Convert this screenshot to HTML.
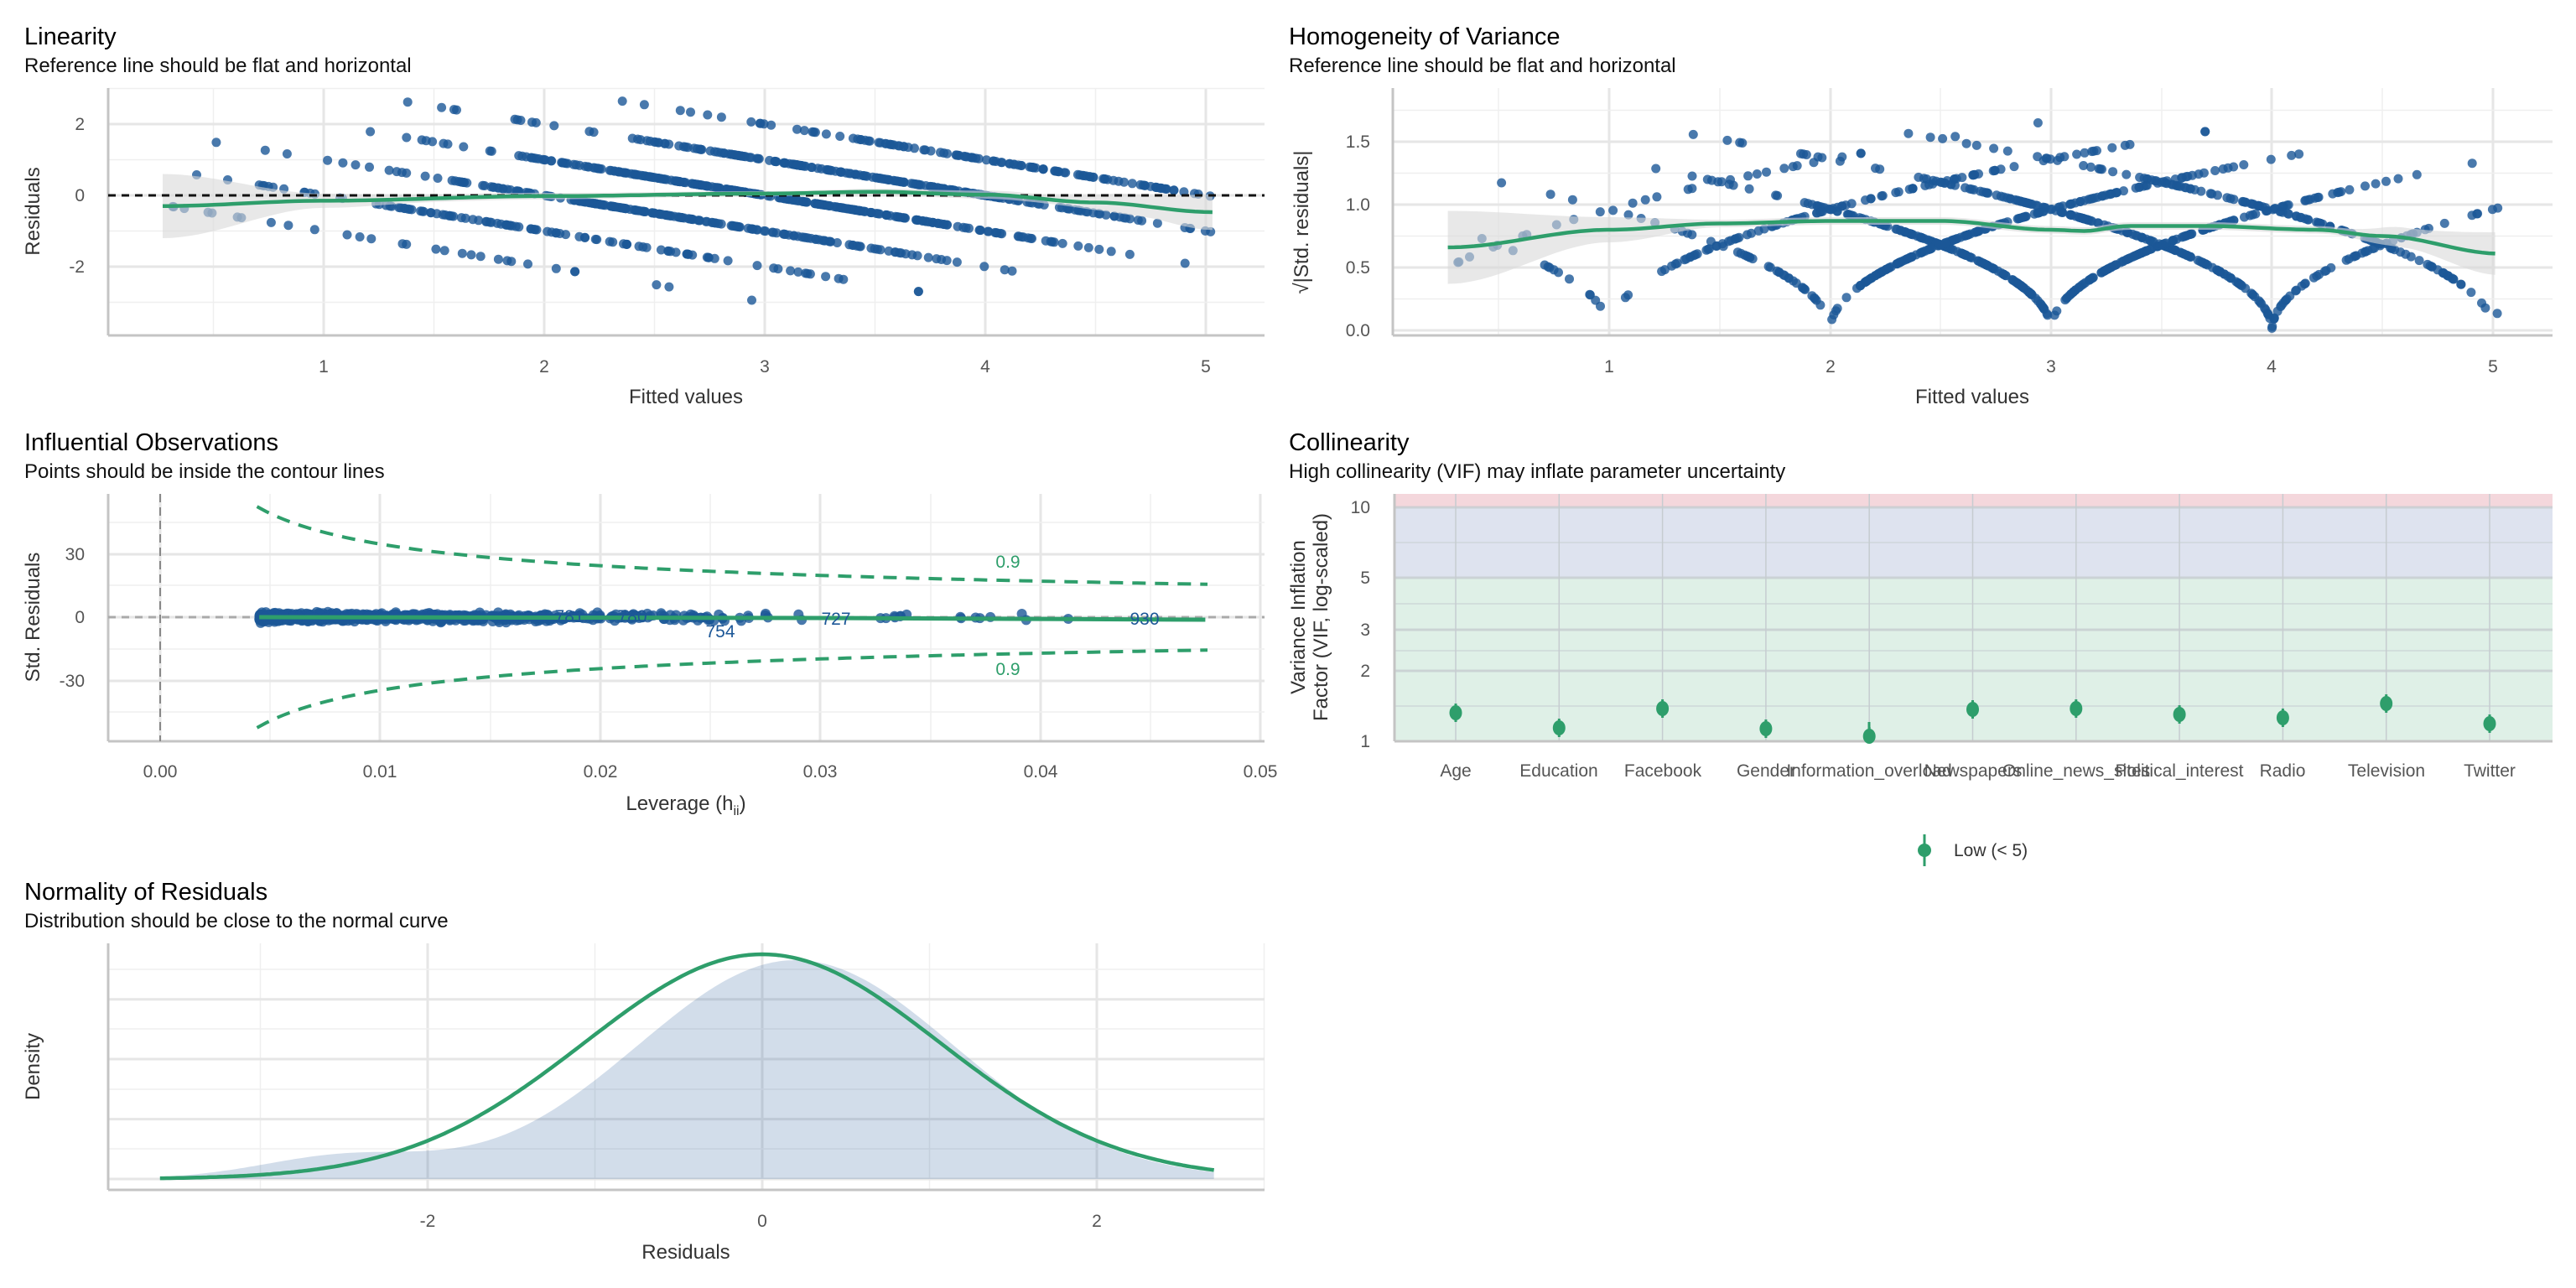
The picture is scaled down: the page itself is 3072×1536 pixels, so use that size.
<!DOCTYPE html>
<html><head><meta charset="utf-8">
<style>
html,body{margin:0;padding:0;background:#fff;}
svg{display:block;font-family:"Liberation Sans",Arial,sans-serif;}
.t{font-size:29px;fill:#000;}
.s{font-size:24px;fill:#111;}
.tk{font-size:21px;fill:#555;}
.ax{font-size:24px;fill:#333;}
.gM{stroke:#e6e6e6;stroke-width:3;}
.gm{stroke:#efefef;stroke-width:1.5;}
.al{stroke:#c4c4c4;stroke-width:3;}
</style></head>
<body>
<svg id="sv" width="3072" height="1536" viewBox="0 0 3072 1536" xmlns="http://www.w3.org/2000/svg">
<rect width="3072" height="1536" fill="#fff"/>
<g id="grid"></g>
<g id="data"></g>

<text class="t" x="29" y="53">Linearity</text>
<text class="s" x="29" y="86">Reference line should be flat and horizontal</text>
<g class="tk" text-anchor="end">
<text x="101" y="155">2</text><text x="101" y="240">0</text><text x="101" y="325">-2</text>
</g>
<g class="tk" text-anchor="middle">
<text x="386" y="444">1</text><text x="649" y="444">2</text><text x="912" y="444">3</text><text x="1175" y="444">4</text><text x="1438" y="444">5</text>
</g>
<text class="ax" x="818" y="481" text-anchor="middle">Fitted values</text>
<text class="ax" transform="translate(47,252) rotate(-90)" text-anchor="middle">Residuals</text>

<text class="t" x="1537" y="53">Homogeneity of Variance</text>
<text class="s" x="1537" y="86">Reference line should be flat and horizontal</text>
<g class="tk" text-anchor="end">
<text x="1634" y="176">1.5</text><text x="1634" y="251">1.0</text><text x="1634" y="326">0.5</text><text x="1634" y="401">0.0</text>
</g>
<g class="tk" text-anchor="middle">
<text x="1919" y="444">1</text><text x="2183" y="444">2</text><text x="2446" y="444">3</text><text x="2709" y="444">4</text><text x="2973" y="444">5</text>
</g>
<text class="ax" x="2352" y="481" text-anchor="middle">Fitted values</text>
<text class="ax" transform="translate(1560,265) rotate(-90)" text-anchor="middle">√|Std. residuals|</text>

<text class="t" x="29" y="537">Influential Observations</text>
<text class="s" x="29" y="570">Points should be inside the contour lines</text>
<g class="tk" text-anchor="end">
<text x="101" y="668">30</text><text x="101" y="743">0</text><text x="101" y="819">-30</text>
</g>
<g class="tk" text-anchor="middle">
<text x="191" y="927">0.00</text><text x="453" y="927">0.01</text><text x="716" y="927">0.02</text><text x="978" y="927">0.03</text><text x="1241" y="927">0.04</text><text x="1503" y="927">0.05</text>
</g>
<text class="ax" x="818" y="966" text-anchor="middle">Leverage (h<tspan font-size="16" dy="6">ii</tspan><tspan dy="-6">)</tspan></text>
<text class="ax" transform="translate(47,736) rotate(-90)" text-anchor="middle">Std. Residuals</text>

<text class="t" x="1537" y="537">Collinearity</text>
<text class="s" x="1537" y="570">High collinearity (VIF) may inflate parameter uncertainty</text>
<g class="tk" text-anchor="end">
<text x="1634" y="612">10</text><text x="1634" y="696">5</text><text x="1634" y="758">3</text><text x="1634" y="807">2</text><text x="1634" y="891">1</text>
</g>
<g class="tk" text-anchor="middle">
<text x="1736" y="926">Age</text><text x="1859" y="926">Education</text><text x="1983" y="926">Facebook</text><text x="2106" y="926">Gender</text><text x="2229" y="926">Information_overload</text><text x="2353" y="926">Newspapers</text><text x="2476" y="926">Online_news_sites</text><text x="2599" y="926">Political_interest</text><text x="2722" y="926">Radio</text><text x="2846" y="926">Television</text><text x="2969" y="926">Twitter</text>
</g>
<text class="ax" transform="translate(1556,736) rotate(-90)" text-anchor="middle">Variance Inflation</text>
<text class="ax" transform="translate(1583,736) rotate(-90)" text-anchor="middle">Factor (VIF, log-scaled)</text>
<line x1="2295" y1="995" x2="2295" y2="1033" stroke="#2e9e6b" stroke-width="3"/>
<circle cx="2295" cy="1014" r="8" fill="#2e9e6b"/>
<text class="tk" x="2330" y="1021" style="fill:#333">Low (&lt; 5)</text>

<text class="t" x="29" y="1073">Normality of Residuals</text>
<text class="s" x="29" y="1106">Distribution should be close to the normal curve</text>
<g class="tk" text-anchor="middle">
<text x="510" y="1463">-2</text><text x="909" y="1463">0</text><text x="1308" y="1463">2</text>
</g>
<text class="ax" x="818" y="1501" text-anchor="middle">Residuals</text>
<text class="ax" transform="translate(47,1272) rotate(-90)" text-anchor="middle">Density</text>
</svg>
<script>
(function(){
var NS="http://www.w3.org/2000/svg";
var G=document.getElementById('grid'),D=document.getElementById('data');
function el(p,n,a){var e=document.createElementNS(NS,n);for(var k in a)e.setAttribute(k,a[k]);p.appendChild(e);return e;}
function hl(y,x1,x2,c){el(G,'line',{x1:x1,x2:x2,y1:y,y2:y,'class':c});}
function vl(x,y1,y2,c){el(G,'line',{x1:x,x2:x,y1:y1,y2:y2,'class':c});}
[254.5,517.5,780.5,1043.5,1306.5].forEach(function(x){vl(x,105,400,'gm');});
[386,649,912,1175,1438].forEach(function(x){vl(x,105,400,'gM');});
[360.5,275.5,190.5,105.5].forEach(function(y){hl(y,129,1508,'gm');});
[318,233,148].forEach(function(y){hl(y,129,1508,'gM');});
[1787,2051,2314,2578,2841].forEach(function(x){vl(x,105,400,'gm');});
[1919,2183,2446,2709,2973].forEach(function(x){vl(x,105,400,'gM');});
[356.5,281.5,206.5,131.5].forEach(function(y){hl(y,1661,3044,'gm');});
[394,319,244,169].forEach(function(y){hl(y,1661,3044,'gM');});
[322,585,847,1110,1372].forEach(function(x){vl(x,589,884,'gm');});
[191,453,716,978,1241,1503].forEach(function(x){vl(x,589,884,'gM');});
[623,698,774,849].forEach(function(y){hl(y,129,1508,'gm');});
[661,736,812].forEach(function(y){hl(y,129,1508,'gM');});
el(G,'rect',{x:1663,y:589,width:1381,height:16,fill:'#f4d7dc'});
el(G,'rect',{x:1663,y:605,width:1381,height:84,fill:'#dee3ef'});
el(G,'rect',{x:1663,y:689,width:1381,height:195,fill:'#dff0e7'});
[647,720,776,842].forEach(function(y){el(G,'line',{x1:1663,x2:3044,y1:y,y2:y,stroke:'#c9d2d6','stroke-width':1.5,'stroke-opacity':0.8});});
[605,689,751,800].forEach(function(y){el(G,'line',{x1:1663,x2:3044,y1:y,y2:y,stroke:'#c6ccd0','stroke-width':3,'stroke-opacity':0.8});});
for(var i=0;i<11;i++){var x=1736+i*123.3;el(G,'line',{x1:x,x2:x,y1:589,y2:884,stroke:'#c6ccd0','stroke-width':1.5});}
[310.5,709.5,1108.5,1507.5].forEach(function(x){vl(x,1125,1419,'gm');});
[510,909,1308].forEach(function(x){vl(x,1125,1419,'gM');});
[1370,1299,1227,1156].forEach(function(y){hl(y,129,1508,'gm');});
[1406,1334.6,1263,1191.8].forEach(function(y){hl(y,129,1508,'gM');});
[[129,105,400],[1661,105,400],[129,589,884],[129,1125,1419]].forEach(function(a){vl(a[0],a[1],a[2],'al');});
hl(400,129,1508,'al');hl(400,1661,3044,'al');hl(884,129,1508,'al');hl(1419,129,1508,'al');hl(884,1663,3044,'al');vl(1663,589,884,'al');

var s=98765;function R(){s=(s*1103515245+12345)%2147483648;return s/2147483648;}
function N(){var u=R()||1e-9,v=R();return Math.sqrt(-2*Math.log(u))*Math.cos(2*Math.PI*v);}
var pts=[];
for(var i=0;i<1000;i++){
 var f=3.0+0.95*N(); if(f<0.27)f=0.27+R()*0.6; if(f>5.03)f=5.03-R()*0.6;
 var y=Math.round(f+1.0*N()); if(y<0)y=0; if(y>5)y=5;
 var r=y-f; if(r>2.75){y-=1;r-=1;} if(r<-3.6){y+=1;r+=1;}
 var lev=0.0045+0.0062*(-Math.log(R()||1e-9)); if(lev>0.0475)lev=0.0475-R()*0.002;
 pts.push([f,r,lev]);
}
var col='#1c5797';
function band(p,ptsTop,ptsBot,fill){var d='M'+ptsTop.map(function(q){return q[0]+','+q[1];}).join(' L');d+=' L'+ptsBot.slice().reverse().map(function(q){return q[0]+','+q[1];}).join(' L')+'Z';el(p,'path',{d:d,fill:fill||'#d9d9d9','fill-opacity':0.6});}
function line(p,arr,c,w,dash){var a={d:'M'+arr.map(function(q){return q[0].toFixed(1)+','+q[1].toFixed(1);}).join(' L'),fill:'none',stroke:c,'stroke-width':w};if(dash)a['stroke-dasharray']=dash;el(p,'path',a);}
function interp(k,x){for(var i=0;i<k.length-1;i++){if(x>=k[i][0]&&x<=k[i+1][0]){var t=(x-k[i][0])/(k[i+1][0]-k[i][0]);t=t*t*(3-2*t);return k[i][1]+t*(k[i+1][1]-k[i][1]);}}return k[k.length-1][1];}
var XA=function(f){return 123+263*f;},YA=function(r){return 233-42.5*r;};
var gA=el(D,'g',{});
pts.forEach(function(p){el(gA,'circle',{cx:XA(p[0]).toFixed(1),cy:YA(p[1]).toFixed(1),r:5.5,fill:col,'fill-opacity':0.8});});
var lA=[[0.27,-0.3],[1,-0.15],[2,-0.02],[3,0.05],[3.5,0.1],[4,0.02],[4.5,-0.2],[5.03,-0.47]];
var wA=[[0.27,0.9],[1,0.2],[1.5,0.1],[3,0.07],[4.3,0.12],[4.7,0.3],[5.03,0.5]];
var tp=[],bt=[],ln=[];
for(var f=0.27;f<=5.031;f+=0.04){var m=interp(lA,f),w=interp(wA,f);tp.push([XA(f).toFixed(1),YA(m+w).toFixed(1)]);bt.push([XA(f).toFixed(1),YA(m-w).toFixed(1)]);ln.push([XA(f),YA(m)]);}
band(gA,tp,bt);
el(gA,'line',{x1:129,x2:1508,y1:233,y2:233,stroke:'#111','stroke-width':3,'stroke-dasharray':'9,7'});
line(gA,ln,'#2e9e6b',4.5);
var XB=function(f){return 1655.5+263.5*f;},YB=function(v){return 394-150*v;};
var gB=el(D,'g',{});
pts.forEach(function(p){var v=Math.sqrt(Math.abs(p[1])/1.08);el(gB,'circle',{cx:XB(p[0]).toFixed(1),cy:YB(v).toFixed(1),r:5.5,fill:col,'fill-opacity':0.8});});
var lB=[[0.27,0.66],[1,0.8],[1.5,0.85],[2,0.87],[2.5,0.87],[3,0.8],[3.15,0.79],[3.35,0.83],[3.7,0.83],[4.2,0.8],[4.5,0.75],[5.03,0.61]];
var wB=[[0.27,0.29],[1,0.1],[1.5,0.03],[4.3,0.03],[4.6,0.08],[5.03,0.17]];
tp=[];bt=[];ln=[];
for(var f=0.27;f<=5.031;f+=0.03){var m=interp(lB,f),w=interp(wB,f);tp.push([XB(f).toFixed(1),YB(m+w).toFixed(1)]);bt.push([XB(f).toFixed(1),YB(m-w).toFixed(1)]);ln.push([XB(f),YB(m)]);}
band(gB,tp,bt);line(gB,ln,'#2e9e6b',4.5);
var XC=function(h){return 191+26240*h;},YC=function(v){return 736-2.52*v;};
var gC=el(D,'g',{});
el(gC,'line',{x1:191,x2:191,y1:589,y2:884,stroke:'#888','stroke-width':2,'stroke-dasharray':'10,6'});
el(gC,'line',{x1:129,x2:1508,y1:736,y2:736,stroke:'#aaa','stroke-width':3,'stroke-dasharray':'9,7'});
pts.forEach(function(p){el(gC,'circle',{cx:XC(p[2]).toFixed(1),cy:YC(p[1]/1.08).toFixed(1),r:6,fill:col,'fill-opacity':0.8});});
var up=[],dn=[];
for(var h=0.0044;h<=0.0476;h+=0.0004){var v=Math.sqrt(12.1*(1-h)/h);up.push([XC(h),YC(v)]);dn.push([XC(h),YC(-v)]);}
line(gC,up,'#2e9e6b',4,'16,11');line(gC,dn,'#2e9e6b',4,'16,11');
line(gC,[[XC(0.0045),736],[XC(0.03),737],[XC(0.0475),739]],'#2e9e6b',5);
[['0.9',1202,677],['0.9',1202,805]].forEach(function(a){var t=el(gC,'text',{x:a[1],y:a[2],'text-anchor':'middle','font-size':21,fill:'#2e9e6b'});t.textContent=a[0];});
[['781',679,742],['780',754,742],['754',859,760],['727',997,745],['930',1365,745]].forEach(function(a){var t=el(gC,'text',{x:a[1],y:a[2],'text-anchor':'middle','font-size':21,fill:'#1c5797'});t.textContent=a[0];});
var vy=[850,868,845,869,878,846,845,852,856,839,863];
var gD=el(D,'g',{});
vy.forEach(function(y,i){var x=1736+i*123.3;el(gD,'line',{x1:x,x2:x,y1:y-11,y2:Math.min(y+11,884),stroke:'#2e9e6b','stroke-width':3});el(gD,'ellipse',{cx:x,cy:y,rx:7.5,ry:9,fill:'#2e9e6b'});});
el(gD,'line',{x1:2229,x2:2229,y1:861,y2:884,stroke:'#2e9e6b','stroke-width':3});
var XE=function(r){return 909+199.5*r;},YE=function(d){return 1406-714*d;};
var gE=el(D,'g',{});
function g(x,m,sd){return Math.exp(-0.5*(x-m)*(x-m)/(sd*sd))/(sd*2.5066);}
var den=[],mx=0;
for(var x=-3.6;x<=2.701;x+=0.02){var d=0.95*g(x,0.2,0.95)+0.05*g(x,-2.5,0.5);den.push([x,d]);if(d>mx)mx=d;}
var sc=(1406-1145)/mx;
var dd='M'+XE(-3.6)+',1406 '+den.map(function(q){return 'L'+XE(q[0]).toFixed(1)+','+(1406-q[1]*sc).toFixed(1);}).join(' ')+' L'+XE(2.7)+',1406Z';
el(gE,'path',{d:dd,fill:'#1c5797','fill-opacity':0.2});
var nl=[];for(var x=-3.6;x<=2.701;x+=0.02){nl.push([XE(x),YE(g(x,0,1.063))]);}
line(gE,nl,'#2e9e6b',4.5);
})();
</script>
</body></html>
